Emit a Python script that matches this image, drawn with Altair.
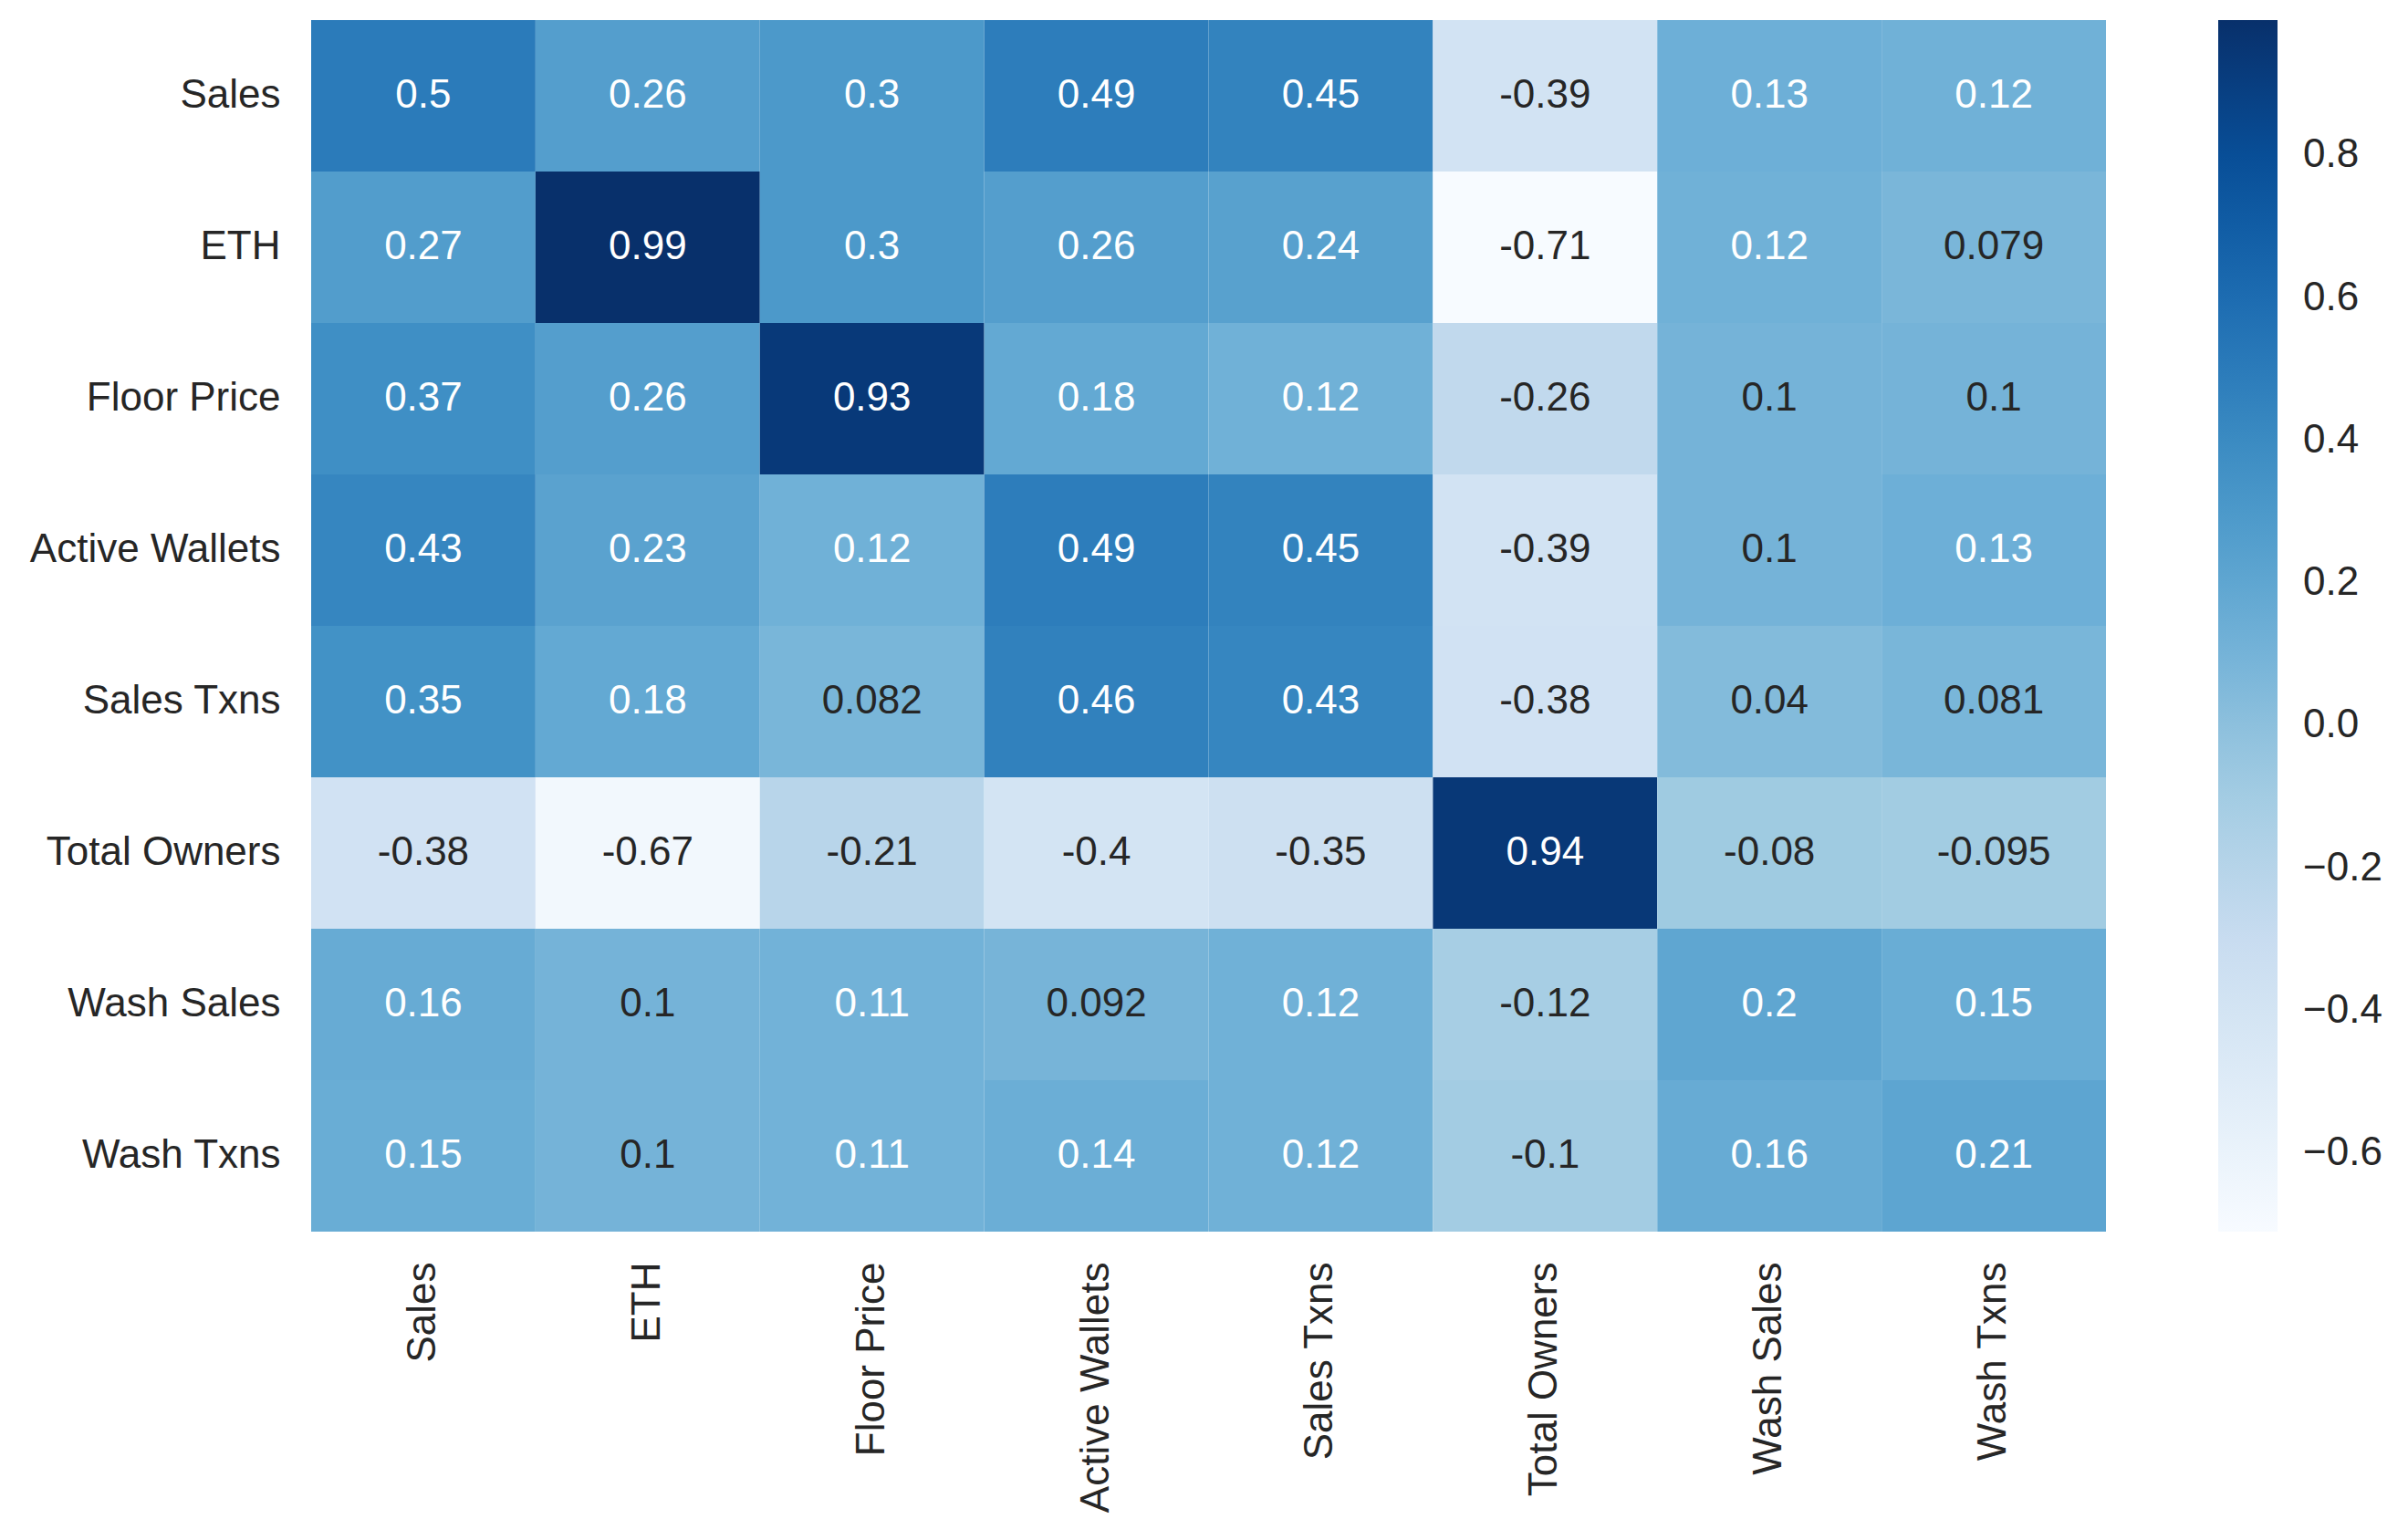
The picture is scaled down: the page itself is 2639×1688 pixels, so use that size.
import altair as alt
import pandas as pd
import numpy as np

labels = ["Sales", "ETH", "Floor Price", "Active Wallets", "Sales Txns",
          "Total Owners", "Wash Sales", "Wash Txns"]

row_sales = [0.5, 0.26, 0.3, 0.49, 0.45, -0.39, 0.13, 0.12]
row_eth = [0.27, 0.99, 0.3, 0.26, 0.24, -0.71, 0.12, 0.079]
row_floor = [0.37, 0.26, 0.93, 0.18, 0.12, -0.26, 0.1, 0.1]
row_wallets = [0.43, 0.23, 0.12, 0.49, 0.45, -0.39, 0.1, 0.13]
row_txns = [0.35, 0.18, 0.082, 0.46, 0.43, -0.38, 0.04, 0.081]
row_owners = [-0.38, -0.67, -0.21, -0.4, -0.35, 0.94, -0.08, -0.095]
row_wash_sales = [0.16, 0.1, 0.11, 0.092, 0.12, -0.12, 0.2, 0.15]
row_wash_txns = [0.15, 0.1, 0.11, 0.14, 0.12, -0.1, 0.16, 0.21]

legend_ticks = [-0.6, -0.4, -0.2, 0.0, 0.2, 0.4, 0.6, 0.8]

blues = ["#f7fbff", "#deebf7", "#c6dbef", "#9ecae1", "#6baed6",
         "#4292c6", "#2171b5", "#08519c", "#08306b"]

rows = [row_sales, row_eth, row_floor, row_wallets, row_txns,
        row_owners, row_wash_sales, row_wash_txns]

records = []
for rname, vals in zip(labels, rows):
    for cname, v in zip(labels, vals):
        records.append({"row": rname, "col": cname, "v": v, "txt": format(v, ".2g")})
df = pd.DataFrame(records)

vmin = float(df["v"].min())
vmax = float(df["v"].max())
domain = [float(x) for x in np.linspace(vmin, vmax, len(blues))]

FONT = "Liberation Sans"
FS = 44

base = alt.Chart(df).encode(
    x=alt.X("col:N", sort=labels, title=None,
            axis=alt.Axis(labelAngle=270, labelAlign="right", labelBaseline="middle",
                          labelPadding=33, ticks=False, domain=False, labelLimit=0,
                          labelFontSize=FS, labelFont=FONT, labelColor="#262626")),
    y=alt.Y("row:N", sort=labels, title=None,
            axis=alt.Axis(labelPadding=34, ticks=False, domain=False, labelLimit=0,
                          labelFontSize=FS, labelFont=FONT, labelColor="#262626")),
)

rects = base.mark_rect().encode(
    color=alt.Color("v:Q",
                    scale=alt.Scale(domain=domain, range=blues, interpolate="rgb"),
                    legend=alt.Legend(title=None, orient="right", offset=123,
                                      gradientLength=1328, gradientThickness=65,
                                      values=legend_ticks, format=".1f",
                                      labelFontSize=FS, labelFont=FONT,
                                      labelColor="#262626", labelOffset=28,
                                      labelLimit=0, gradientStrokeWidth=0))
)

texts = base.mark_text(fontSize=FS, font=FONT, baseline="middle", align="center").encode(
    text="txt:N",
    color=alt.condition("datum.v > 0.105", alt.value("white"), alt.value("#262626")),
)

chart = alt.layer(rects, texts).properties(
    width=1967, height=1328,
    padding={"left": 24, "top": 14, "right": 5, "bottom": 5},
).configure_view(stroke=None).configure_axis(grid=False)

chart.save("out.html", embed_options={"renderer": "svg", "actions": False})
